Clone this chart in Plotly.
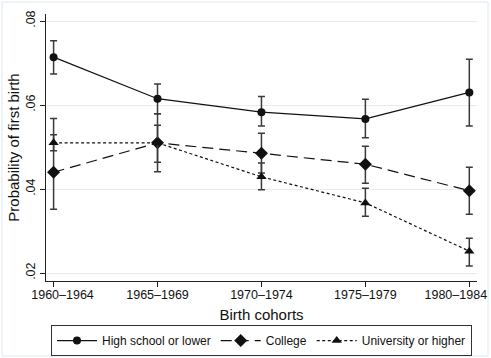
import plotly.graph_objects as go

cohorts = ["1960–1964", "1965–1969", "1970–1974", "1975–1979", "1980–1984"]

hs_est = [0.0714, 0.0615, 0.0583, 0.0567, 0.0630]
hs_lo = [0.0674, 0.0579, 0.0550, 0.0522, 0.0550]
hs_hi = [0.0753, 0.0650, 0.0620, 0.0614, 0.0709]

col_est = [0.0440, 0.0510, 0.0485, 0.0459, 0.0396]
col_lo = [0.0352, 0.0441, 0.0438, 0.0414, 0.0340]
col_hi = [0.0568, 0.0579, 0.0533, 0.0502, 0.0452]

uni_est = [0.0510, 0.0510, 0.0429, 0.0367, 0.0252]
uni_lo = [0.0491, 0.0464, 0.0398, 0.0335, 0.0217]
uni_hi = [0.0529, 0.0552, 0.0462, 0.0402, 0.0283]

y_ticks = [0.02, 0.04, 0.06, 0.08]
y_ticklabels = [".02", ".04", ".06", ".08"]

xpos = list(range(len(cohorts)))
# the outermost cohort labels sit nudged inward (in category units), as in the original
label_nudge = [0.086, 0, 0, 0, -0.13]
label_pos = [p + d for p, d in zip(xpos, label_nudge)]

series = [
    ("High school or lower", hs_est, hs_lo, hs_hi, "solid", "circle", 8),
    ("College", col_est, col_lo, col_hi, "11px,6px", "diamond", 10),
    ("University or higher", uni_est, uni_lo, uni_hi, "3px,2.5px", "triangle-up", 9),
]

fig = go.Figure()
for name, est, lo, hi, dash, sym, msize in series:
    fig.add_trace(go.Scatter(
        x=xpos, y=est, name=name, mode="lines+markers",
        line=dict(color="#111111", width=1.2, dash=dash),
        marker=dict(symbol=sym, size=msize, color="#111111"),
        error_y=dict(type="data", symmetric=False,
                     array=[h - e for h, e in zip(hi, est)],
                     arrayminus=[e - l for e, l in zip(est, lo)],
                     color="#3a3a3a", thickness=1.5, width=3.5),
    ))
# carrier trace for the label axis (draws nothing)
fig.add_trace(go.Scatter(x=[None], y=[None], xaxis="x2", yaxis="y",
                         showlegend=False, hoverinfo="skip"))

L, R, T, B = 46, 14, 14, 77
W, H = 491, 358
pw, ph = W - L - R, H - T - B
xrange = [-0.073, 4.074]

fig.update_layout(
    width=W, height=H,
    margin=dict(l=L, r=R, t=T, b=B, autoexpand=False),
    paper_bgcolor="white", plot_bgcolor="white",
    font=dict(family="Liberation Sans, Arial, sans-serif", size=12.5, color="#111111"),
    showlegend=True,
    legend=dict(orientation="h", x=0.5, xanchor="center", y=-0.165, yanchor="top",
                bordercolor="#333333", borderwidth=1, font=dict(size=12),
                itemwidth=40, tracegroupgap=0),
    xaxis=dict(range=xrange, tickmode="array", tickvals=xpos, showticklabels=False,
               showline=True, linecolor="#222222", linewidth=1, mirror=False,
               ticks="outside", ticklen=5, tickcolor="#222222", showgrid=False,
               automargin=False, zeroline=False),
    xaxis2=dict(range=xrange, overlaying="x", anchor="y", side="bottom",
                tickmode="array", tickvals=label_pos, ticktext=cohorts,
                ticks="outside", ticklen=2, tickcolor="rgba(0,0,0,0)",
                showline=False, showgrid=False, zeroline=False, automargin=False,
                ticklabeloverflow="allow",
                title=dict(text="Birth cohorts", standoff=8)),
    yaxis=dict(range=[0.0181, 0.08167], tickmode="array", tickvals=y_ticks, ticktext=y_ticklabels,
               tickangle=-90, showline=True, linecolor="#222222", linewidth=1,
               ticks="outside", ticklen=5, tickcolor="#222222", automargin=False,
               showgrid=True, gridcolor="#e3edf2", gridwidth=1, zeroline=False,
               title=dict(text="Probability of first birth", standoff=0)),
    shapes=[dict(type="rect", xref="paper", yref="paper",
                 x0=(2 - L) / pw, x1=(488 - L) / pw,
                 y0=(H - B - 356) / ph, y1=(H - B - 2) / ph,
                 line=dict(color="#dce8ee", width=1), layer="below")],
)

fig.write_html("out.html", config={"displayModeBar": False},
               post_script="document.body.style.margin='0';document.body.style.overflow='hidden';")
